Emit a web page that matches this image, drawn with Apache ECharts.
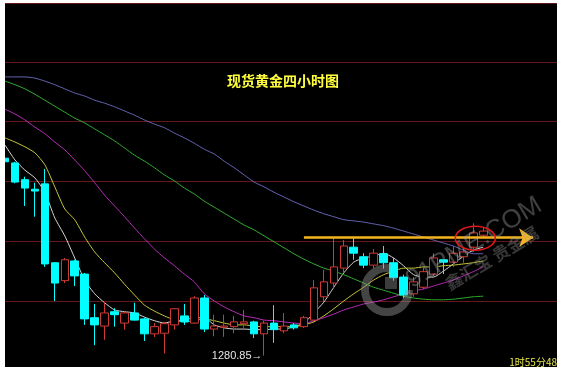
<!DOCTYPE html>
<html><head><meta charset="utf-8">
<script src="https://cdn.jsdelivr.net/npm/echarts@6/dist/echarts.min.js"></script>
<style>html,body{margin:0;padding:0;background:#fff}#c{width:562px;height:373px}</style>
</head><body><div id="c"></div>
<script>
// 4-hour bars, hidden category labels (49 candles + empty slots to the right edge)
const categories = Array.from({length: 56}, (_, i) => 'K' + (i + 1));

// [open, close, low, high]
const candles = [
  [1313.9,1313.3,1312.9,1314.3],[1313.1,1309.9,1309.7,1313.3],[1310.3,1308.9,1305.9,1310.8],
  [1308.7,1308.4,1304.1,1309.8],[1309.6,1296.2,1295.7,1312.1],[1296.4,1293.0,1290.0,1296.5],
  [1293.4,1296.9,1293.0,1297.2],[1296.7,1294.2,1292.5,1296.9],[1294.5,1287.0,1286.0,1294.7],
  [1287.2,1286.0,1282.6,1289.5],[1285.8,1288.0,1283.5,1289.8],[1288.2,1287.7,1285.7,1288.8],
  [1286.3,1288.0,1285.2,1288.2],[1288.0,1286.8,1286.7,1289.7],[1287.0,1284.5,1283.3,1287.2],
  [1284.5,1285.7,1284.0,1286.3],[1284.6,1286.2,1281.2,1286.5],[1286.0,1288.7,1285.2,1288.8],
  [1287.5,1286.5,1286.0,1289.5],[1286.3,1290.5,1286.2,1290.8],[1290.5,1285.3,1284.8,1291.0],
  [1285.3,1285.8,1284.1,1287.7],[1285.6,1285.8,1284.0,1287.7],[1285.7,1286.5,1284.6,1287.5],
  [1286.2,1286.5,1285.5,1288.5],[1286.5,1284.5,1283.8,1286.7],[1284.5,1286.3,1280.85,1286.7],
  [1286.3,1285.2,1283.0,1289.3],[1285.0,1285.8,1284.6,1288.0],[1286.0,1285.5,1285.2,1286.3],
  [1285.7,1287.2,1285.5,1287.5],[1286.8,1292.2,1286.3,1293.5],[1290.7,1293.2,1289.8,1295.2],
  [1293.0,1295.7,1292.2,1300.7],[1295.5,1299.2,1294.7,1300.2],[1299.0,1298.0,1296.9,1300.5],
  [1297.4,1296.0,1295.5,1298.0],[1296.0,1298.0,1295.5,1298.7],[1297.9,1296.4,1295.4,1299.2],
  [1296.4,1293.9,1293.4,1297.2],[1294.0,1291.0,1290.5,1294.4],[1291.2,1293.2,1290.7,1294.0],
  [1292.3,1294.9,1292.0,1295.7],[1294.5,1297.2,1294.0,1298.0],[1296.9,1296.5,1294.5,1296.9],
  [1296.5,1298.0,1295.7,1299.2],[1297.4,1298.2,1296.4,1299.0],[1299.0,1301.4,1298.2,1303.0],
  [1301.0,1301.7,1300.5,1302.4]
];

const maWhite = [1316.1,1313.6,1311.9,1310.6,1308.2,1303.9,1300.9,1297.2,1293.5,1291.2,1289.7,1288.5,1288.2,1288.0,1287.3,1286.7,1286.3,1286.7,1286.8,1287.2,1287.2,1286.0,1285.5,1285.3,1285.3,1285.2,1285.2,1285.3,1285.3,1285.7,1286.3,1288.0,1289.8,1292.3,1294.7,1296.5,1297.2,1297.5,1298.0,1297.2,1295.9,1294.4,1294.0,1294.0,1295.0,1296.2,1297.5,1298.5,1299.0];
const maYellow = [1317.3,1316.6,1315.8,1314.8,1312.8,1309.1,1305.4,1303.6,1300.7,1298.2,1296.4,1294.7,1292.8,1291.0,1289.3,1288.3,1287.5,1286.8,1286.5,1286.7,1287.0,1286.7,1286.3,1286.0,1286.0,1285.8,1285.7,1285.7,1285.7,1285.7,1286.0,1286.5,1287.5,1288.7,1290.0,1291.2,1292.3,1293.5,1294.4,1295.0,1295.5,1295.5,1295.7,1295.7,1295.9,1296.0,1296.2,1296.4,1296.7];
const maMagenta = [1322.1,1321.3,1320.3,1319.1,1318.0,1316.6,1315.3,1313.6,1311.8,1309.8,1307.7,1305.9,1304.1,1302.2,1300.4,1298.7,1297.2,1295.9,1294.5,1293.2,1291.2,1290.0,1289.0,1288.2,1287.5,1287.2,1286.8,1286.7,1286.5,1286.3,1286.2,1286.7,1287.2,1287.8,1288.5,1289.0,1289.5,1289.8,1290.2,1290.7,1291.2,1291.7,1292.0,1292.5,1293.0,1293.5,1294.2,1294.9,1295.7];
const maGreen = [1326.8,1326.2,1325.5,1324.6,1323.6,1322.6,1321.6,1320.6,1319.8,1318.8,1317.8,1316.8,1315.6,1314.4,1313.4,1312.3,1311.1,1310.1,1308.9,1307.9,1306.7,1305.7,1304.7,1303.7,1302.7,1301.9,1300.9,1299.9,1298.9,1297.9,1297.0,1296.2,1295.5,1295.0,1294.4,1293.7,1293.0,1292.3,1291.8,1291.3,1290.8,1290.5,1290.3,1290.2,1290.2,1290.3,1290.5,1290.7,1290.8];
const maBlue = [1327.5,1327.5,1327.5,1327.3,1326.8,1326.2,1325.5,1324.8,1324.3,1323.6,1323.1,1322.5,1321.8,1321.1,1320.3,1319.6,1319.0,1318.1,1317.3,1316.4,1315.4,1314.6,1313.4,1312.3,1311.1,1309.9,1309.1,1308.2,1307.4,1306.6,1305.9,1305.2,1304.6,1304.1,1303.6,1303.4,1303.2,1302.9,1302.6,1302.2,1301.7,1301.2,1300.7,1300.2,1299.7,1299.2,1298.5,1297.9,1297.9];

const gridLevels = [1290, 1300, 1310, 1320, 1330];
const lowLabel = {index: 26, value: 1280.85, text: '1280.85\u2192'};
const resistance = {from: 30, to: 53, value: 1300.6};
const circled = {index: 47, value: 1300.5};

const yMin = 1278.95, yMax = 1339.87;

function maSeries(name, data, color) {
  return {name, type: 'line', data, smooth: 0.2, showSymbol: false, symbol: 'none',
    lineStyle: {color, width: 1}, z: 3, silent: true};
}

const option = {
  animation: false,
  backgroundColor: '#000',
  title: {text: '现货黄金四小时图', left: 222, top: 69,
    textStyle: {color: '#ffff3c', fontSize: 14, fontWeight: 'bold', fontFamily: 'Noto Sans CJK SC'}},
  grid: {left: -2, right: 4, top: 3, bottom: 6},
  xAxis: {type: 'category', data: categories, boundaryGap: true, show: false},
  yAxis: {type: 'value', min: yMin, max: yMax, show: false, splitLine: {show: false}},
  series: [
    {type: 'candlestick', data: candles, barWidth: 8, z: 4,
      itemStyle: {color: '#000', borderColor: '#d03a36', color0: '#00ffff', borderColor0: '#00ffff', borderWidth: 1},
      markLine: {silent: true, symbol: 'none', label: {show: false}, z: 1,
        lineStyle: {color: '#661818', type: 'solid', width: 1},
        data: gridLevels.map(v => ({yAxis: v}))},
      markPoint: {silent: true, symbol: 'circle', symbolSize: 1, itemStyle: {color: 'rgba(0,0,0,0)'},
        label: {show: true, position: 'left', distance: 1, color: '#e6e6e6', fontSize: 11,
          fontFamily: 'Liberation Sans', formatter: lowLabel.text},
        data: [{coord: [categories[lowLabel.index], lowLabel.value]}]}
    },
    maSeries('MA5', maWhite, '#d8d8d8'),
    maSeries('MA10', maYellow, '#c8c83c'),
    maSeries('MA20', maMagenta, '#b82cb8'),
    maSeries('MA30', maGreen, '#30b030'),
    Object.assign(maSeries('MA60', maBlue, '#6464b4'), {
      markLine: {silent: true, z: 6, label: {show: false},
        symbol: ['none', 'arrow'], symbolSize: [14, 14],
        lineStyle: {color: '#f7b41c', width: 2.5, type: 'solid'},
        itemStyle: {color: '#f7b41c'},
        data: [[{coord: [categories[resistance.from], resistance.value]},
                {coord: [categories[resistance.to], resistance.value]}]]}
    })
  ]
};

const chart = echarts.init(document.getElementById('c'));
chart.setOption(option);
const ep = chart.convertToPixel({gridIndex: 0}, [categories[circled.index], circled.value]);

chart.setOption({graphic: [
  // watermark
  {type: 'arc', z: 10, silent: true, shape: {cx: 387, cy: 290, r: 22, startAngle: 0, endAngle: Math.PI * 1.55, clockwise: true},
    style: {stroke: 'rgba(150,150,150,0.45)', lineWidth: 8, fill: 'none'}},
  {type: 'rect', z: 10, silent: true, shape: {x: 385, y: 277, width: 12, height: 12},
    style: {fill: 'rgba(150,150,150,0.4)'}},
  {type: 'text', z: 10, silent: true, x: 474, y: 243, rotation: 31 * Math.PI / 180,
    style: {text: '91PME.COM', font: '26px "Liberation Sans"', fill: 'rgba(160,160,160,0.4)', align: 'center', verticalAlign: 'middle'}},
  {type: 'text', z: 10, silent: true, x: 492, y: 258, rotation: 31 * Math.PI / 180,
    style: {text: '鑫汇宝 贵金属', font: 'bold 17px "Noto Sans CJK SC"', fill: 'rgba(160,160,160,0.35)', align: 'center', verticalAlign: 'middle'}},
  // red ellipse around latest bars
  {type: 'ellipse', z: 20, silent: true, shape: {cx: ep[0] + 2, cy: ep[1], rx: 20, ry: 12},
    style: {fill: 'none', stroke: '#e01818', lineWidth: 1.5}},
  // clock text
  {type: 'text', z: 30, silent: true, right: 5, bottom: 6,
    style: {text: '1时55分48', font: '10px "Noto Sans CJK SC"', fill: '#e8e84a'}},
  // top frame line
  {type: 'line', z: 30, silent: true, shape: {x1: 5, y1: 3.5, x2: 557, y2: 3.5}, style: {stroke: '#661818', lineWidth: 1}},
  // white page border
  {type: 'rect', z: 100, silent: true, shape: {x: 0, y: 0, width: 5, height: 373}, style: {fill: '#fff'}},
  {type: 'rect', z: 100, silent: true, shape: {x: 557, y: 0, width: 5, height: 373}, style: {fill: '#fff'}},
  {type: 'rect', z: 100, silent: true, shape: {x: 0, y: 0, width: 562, height: 3}, style: {fill: '#fff'}},
  {type: 'rect', z: 100, silent: true, shape: {x: 0, y: 367, width: 562, height: 6}, style: {fill: '#fff'}}
]});
</script></body></html>
